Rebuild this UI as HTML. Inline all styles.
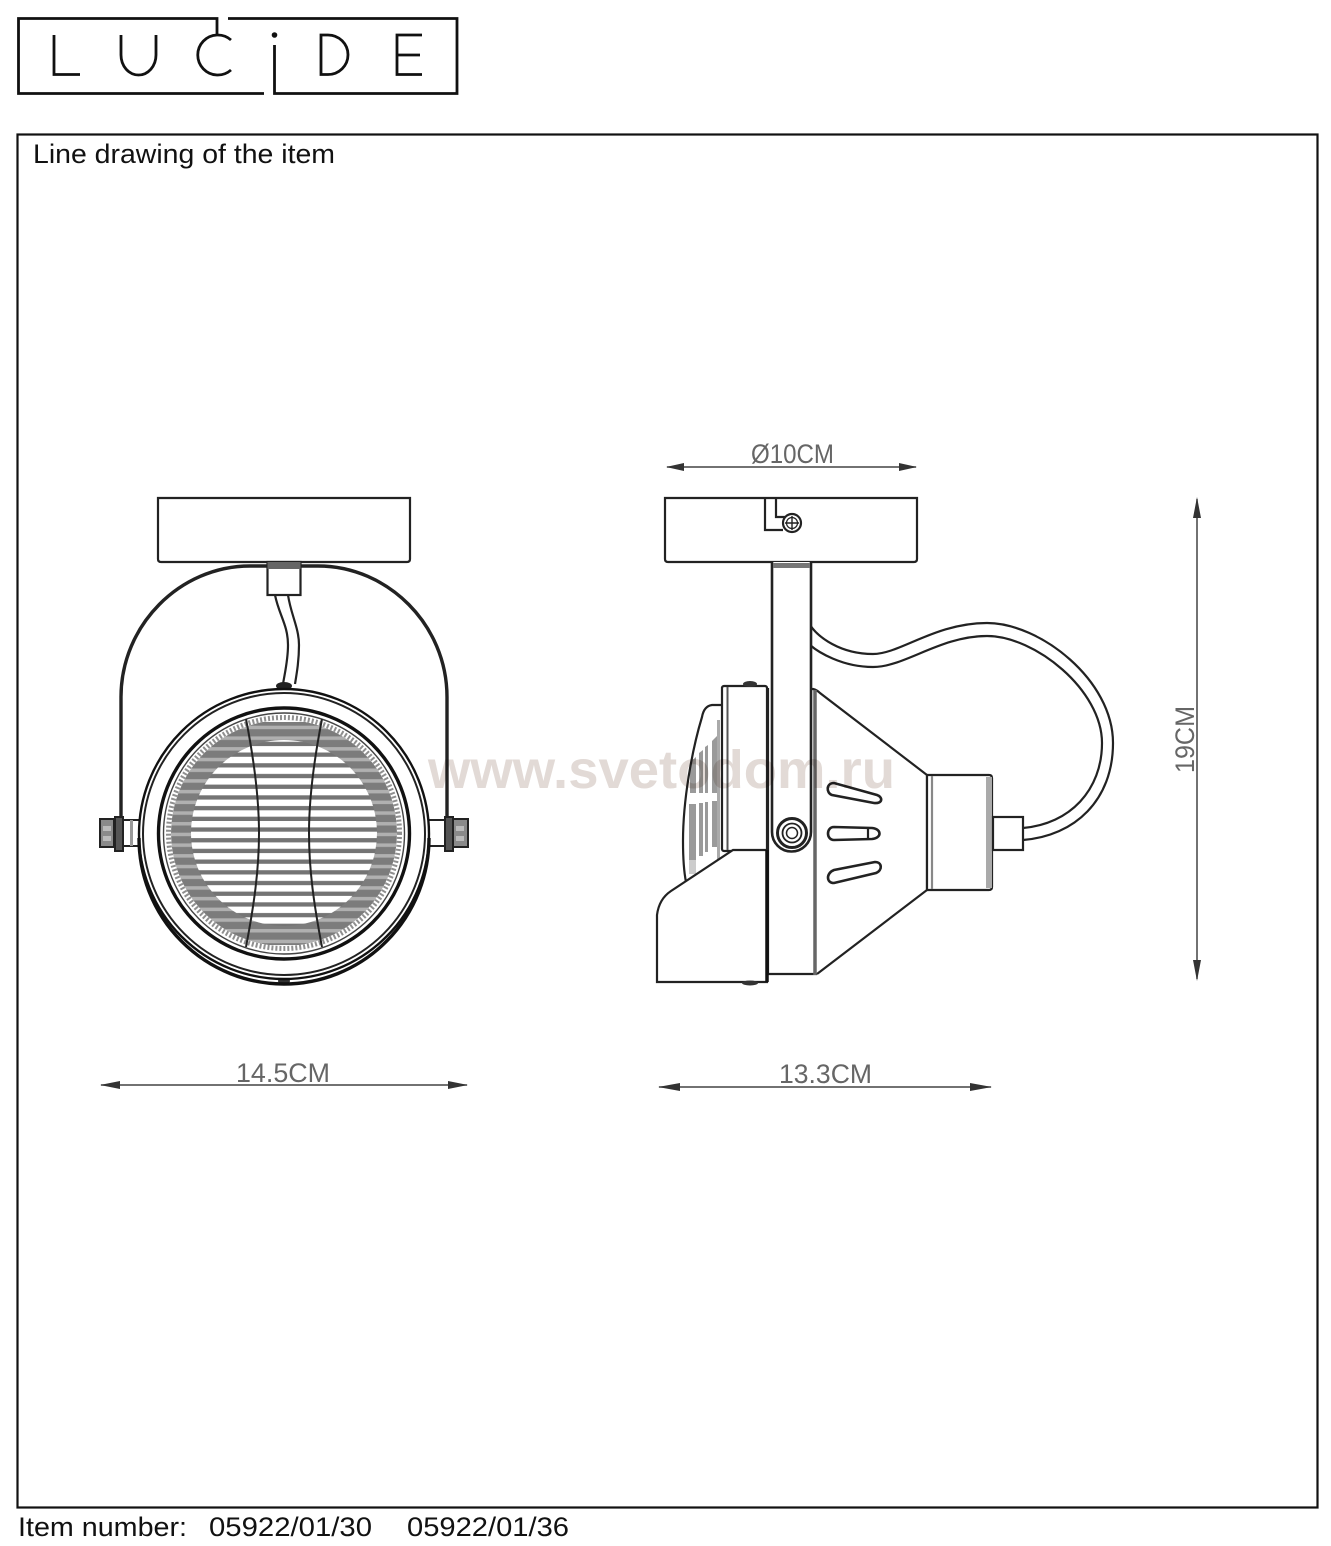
<!DOCTYPE html>
<html><head><meta charset="utf-8"><style>
html,body{margin:0;padding:0;background:#fff}
svg{display:block;filter:blur(0.35px)}
text{font-family:"Liberation Sans",sans-serif}
</style></head><body>
<svg width="1331" height="1546" viewBox="0 0 1331 1546" xmlns="http://www.w3.org/2000/svg">
<defs>
<pattern id="pa" patternUnits="userSpaceOnUse" x="0" y="821" width="10" height="10.7">
<rect width="10" height="10.7" fill="#7c7c7c"/><rect y="1" width="10" height="3.5" fill="#b0b0b0"/>
</pattern>
<pattern id="pb" patternUnits="userSpaceOnUse" x="0" y="821" width="10" height="10.7">
<rect width="10" height="10.7" fill="#fff"/><rect y="6.4" width="10" height="4.3" fill="#747474"/>
</pattern>
<clipPath id="cg"><circle cx="284" cy="833" r="113"/></clipPath>
<clipPath id="cl"><path d="M722 706L707 708L702 717C692 750 683 800 683 841C683 860 684 872 686 880L722 858Z"/></clipPath>
</defs>
<rect width="1331" height="1546" fill="#fff"/>

<!-- logo -->
<g fill="none" stroke="#111" stroke-width="2.800">
<path d="M264 93.500H18.500V18.500H217V35"/>
<path d="M228 18.500H457V93.500H274.500V45"/>
<path d="M54 35V74.500H80"/>
<path d="M121 35V55A17.500 20 0 0 0 156 55V35"/>
<path d="M231 40A20 20 0 1 0 231 70"/>
<path d="M321 35V74.500H328A20 19.750 0 0 0 328 35Z"/>
<path d="M422 35H397V74.500H422M397 55H420"/>
</g>
<circle cx="274.500" cy="35" r="2.800" fill="#111"/>

<!-- frame -->
<rect x="17.500" y="134.500" width="1300" height="1373" fill="none" stroke="#111" stroke-width="2.200"/>
<text x="33" y="163" font-size="27" fill="#111" textLength="302" lengthAdjust="spacingAndGlyphs">Line drawing of the item</text>
<text x="18" y="1536" font-size="27" fill="#111" textLength="169" lengthAdjust="spacingAndGlyphs">Item number:</text>
<text x="209" y="1536" font-size="27" fill="#111" textLength="163" lengthAdjust="spacingAndGlyphs">05922/01/30</text>
<text x="407" y="1536" font-size="27" fill="#111" textLength="162" lengthAdjust="spacingAndGlyphs">05922/01/36</text>

<!-- LEFT VIEW -->
<g fill="none" stroke="#222" stroke-width="2.200">
<path d="M158 498H410V559Q410 562 407 562H161Q158 562 158 559Z"/>
<path d="M121 850V697C121 625 180 566 250 566H318C388 566 447 625 447 697V850" stroke-width="3.400"/>
<rect x="267.500" y="562" width="33" height="33" fill="#fff"/>
<rect x="267.500" y="562" width="33" height="7" fill="#666" stroke="none"/>
<path d="M275 595C279 615 288 625 288 645C288 660 285 672 283 684"/>
<path d="M288 595C291 615 299 628 299 645C299 660 297 672 295 684"/>
</g>
<!-- ears -->
<g stroke="#222" stroke-width="2">
<rect x="123" y="820" width="18" height="26" fill="#fff"/>
<rect x="130" y="820" width="3" height="26" fill="#999" stroke="none"/>
<rect x="100" y="819" width="14" height="28" fill="#8a8a8a"/>
<rect x="103" y="826" width="8" height="5" fill="#bbb" stroke="none"/>
<rect x="103" y="836" width="8" height="5" fill="#bbb" stroke="none"/>
<rect x="115" y="817" width="8" height="34" fill="#555"/>
<rect x="427" y="820" width="18" height="26" fill="#fff"/>
<rect x="453" y="819" width="15" height="28" fill="#8a8a8a"/>
<rect x="456" y="826" width="8" height="5" fill="#bbb" stroke="none"/>
<rect x="456" y="836" width="8" height="5" fill="#bbb" stroke="none"/>
<rect x="445" y="817" width="8" height="34" fill="#555"/>
</g>
<ellipse cx="284" cy="686" rx="8" ry="4" fill="#222"/>
<ellipse cx="284" cy="981" rx="6" ry="3" fill="#333"/>
<circle cx="284" cy="834" r="145" fill="#fff" stroke="#111" stroke-width="2.400"/>
<circle cx="284" cy="834" r="141" fill="none" stroke="#222" stroke-width="2"/>
<path d="M139 838A145 146 0 0 0 429 838" fill="none" stroke="#111" stroke-width="3.400"/>
<circle cx="284" cy="833.500" r="125.500" fill="#fff" stroke="#111" stroke-width="3.400"/>
<circle cx="284" cy="833.500" r="120.500" fill="none" stroke="#444" stroke-width="1.400"/>
<g clip-path="url(#cg)">
<circle cx="284" cy="833" r="113" fill="url(#pa)"/>
<rect x="247" y="712" width="74" height="10" fill="#fff"/>
<rect x="247" y="945" width="74" height="11" fill="#fff"/>
<circle cx="284" cy="833" r="93" fill="url(#pb)"/>
</g>
<circle cx="284" cy="833" r="115.500" fill="none" stroke="#8f8f8f" stroke-width="5" stroke-dasharray="2 2"/>
<g fill="none" stroke="#222" stroke-width="2">
<path d="M246 719C254 760 259 800 259 833C259 870 254 905 246 947"/>
<path d="M322 719C314 760 309 800 309 833C309 870 314 905 322 947"/>
</g>

<!-- RIGHT VIEW -->
<g fill="none" stroke="#222" stroke-width="2.200">
<!-- cord -->
<path d="M810 625C818 637 840 654 873 654C900 654 935 623 987 623C1040 623 1113 680 1113 743C1113 800 1075 836 1023 840"/>
<path d="M810 645C818 652 842 667 873 667C905 667 940 636 987 636C1035 636 1102 690 1102 743C1102 790 1070 824 1023 828"/>
<!-- plate -->
<path d="M665 498H917V559Q917 562 914 562H668Q665 562 665 559Z"/>
<path d="M765 499V530H783M776 499V517H785"/>
<circle cx="792" cy="523" r="9" fill="#fff"/>
<circle cx="792" cy="523" r="5.500" stroke-width="1.200"/>
<path d="M785 523H799M792 516V530" stroke-width="1.400"/>
<!-- lens -->
<g clip-path="url(#cl)" stroke="none" fill="#9a9a9a">
<path d="M690 762L696 757V793H690Z"/>
<path d="M699 753L703 750V793H699Z"/>
<path d="M705 747L708 745V793H705Z"/>
<path d="M712 741L718 735V793H712Z"/>
<rect x="689" y="804" width="7" height="56"/>
<rect x="699" y="803" width="4" height="53"/>
<rect x="705" y="802" width="3" height="50"/>
<rect x="712" y="801" width="6" height="46"/>
<rect x="689" y="860" width="7" height="14" fill="#ccc"/>
</g>
<path d="M722 705H712Q704 706 702 717C692 750 683 800 683 841C683 860 684 872 686 882"/>
<!-- front block -->
<rect x="722" y="686" width="45" height="165" rx="2" fill="#fff"/>
<path d="M727.500 687V850" stroke="#555" stroke-width="2"/>
<path d="M718.500 720V860" stroke="#aaa" stroke-width="3"/>
<path d="M768 688V974H817"/>
<!-- body -->
<path d="M811 689H813Q817 690 820 693L927 775V890L817 974" fill="#fff"/>
<path d="M815 690V975" stroke="#666" stroke-width="3.500"/>
<!-- arm -->
<path d="M772 562V832A19.500 19.500 0 0 0 811 832V562" fill="#fff" stroke-width="2.600"/>
<rect x="773" y="563" width="37" height="5" fill="#777" stroke="none"/>
<!-- rear -->
<path d="M927 775H989Q992 775 992 778V887Q992 890 989 890H927Z" fill="#fff"/>
<path d="M932 776V889" stroke="#888"/>
<rect x="986" y="777" width="6" height="111" fill="#aaa" stroke="none"/>
<rect x="993" y="817" width="30" height="33" fill="#fff"/>
<!-- lower block -->
<path d="M767 850H733L671 891Q659 899 657 915V982H767V850" fill="#fff"/>
<path d="M767 850V982" stroke="#111" stroke-width="3.500"/>
<!-- slots -->
<path d="M834 783C826 783 826 793 832 795L874 803C883 804 883 797 877 795Z" stroke-width="2.600"/>
<path d="M834 827C826 827 826 840 834 840L872 839C882 838 882 829 872 828Z" stroke-width="2.600"/>
<path d="M875 862L834 870C826 873 826 883 834 883L876 873C883 870 882 862 875 862Z" stroke-width="2.600"/>
<path d="M868 828V839"/>
<!-- pivot -->
<circle cx="792" cy="833" r="14.500" stroke-width="3" fill="#fff"/>
<circle cx="792" cy="833" r="9.500" stroke-width="1.800"/>
<circle cx="792" cy="833" r="5.500" stroke-width="1.500"/>
</g>
<ellipse cx="750" cy="684" rx="7" ry="3" fill="#333"/>
<ellipse cx="750" cy="983" rx="8" ry="2.500" fill="#333"/>

<!-- dimensions -->
<g stroke="#444" stroke-width="1.500" fill="#333">
<path d="M667 467H916" fill="none"/><path d="M666 467L684 463V471ZM917 467L899 463V471Z" stroke="none"/>
<path d="M101 1085H467" fill="none"/><path d="M100 1085L120 1081V1089ZM468 1085L448 1081V1089Z" stroke="none"/>
<path d="M659 1087H991" fill="none"/><path d="M658 1087L680 1083V1091ZM992 1087L970 1083V1091Z" stroke="none"/>
<path d="M1197 499V979" fill="none"/><path d="M1197 497L1193 518H1201ZM1197 981L1193 960H1201Z" stroke="none"/>
</g>
<g fill="#666" font-size="27">
<text x="751" y="463" textLength="83" lengthAdjust="spacingAndGlyphs">Ø10CM</text>
<text x="236" y="1082" textLength="94" lengthAdjust="spacingAndGlyphs">14.5CM</text>
<text x="779" y="1083" textLength="93" lengthAdjust="spacingAndGlyphs">13.3CM</text>
<text transform="translate(1194 773) rotate(-90)" textLength="67" lengthAdjust="spacingAndGlyphs">19CM</text>
</g>

<!-- watermark -->
<text x="428" y="788" font-size="54" font-weight="700" fill="#e2dad6" style="mix-blend-mode:multiply" textLength="467" lengthAdjust="spacingAndGlyphs">www.svetodom.ru</text>
</svg>
</body></html>
